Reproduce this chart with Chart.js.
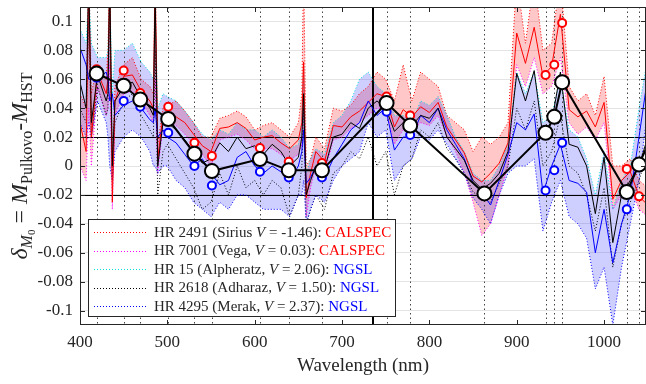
<!DOCTYPE html>
<html>
<head>
<meta charset="utf-8">
<script src="https://cdn.jsdelivr.net/npm/chart.js@4.4.1/dist/chart.umd.min.js"></script>
<style>
  html, body { margin: 0; padding: 0; background: #fff; overflow: hidden; }
  #wrap { width: 646px; height: 384px; position: relative; }
  #deltaChart { display: block; }
</style>
</head>
<body>
<div id="wrap"><canvas id="deltaChart"></canvas></div>
<script>
// wavelength grid (nm), extra points around the Balmer lines
const wl = [400, 407, 410, 413, 420, 430, 432, 434, 437, 440,
  450, 460, 470, 480, 484, 486, 489, 495,
  500, 510, 520, 530, 540, 550, 560, 570, 580, 590, 600, 610, 620, 630, 640, 650,
  654, 656, 659, 664, 670,
  680, 690, 700, 710, 720, 730, 740, 750, 760, 770, 780, 790, 800, 810, 820, 830,
  840, 850, 860, 870, 880, 890, 900, 910, 920, 930, 940, 950, 960, 970, 980, 990,
  1000, 1010, 1020, 1030, 1040, 1050];

const xTicks = [400, 500, 600, 700, 800, 900, 1000];
const yTicks = [-0.1, -0.08, -0.06, -0.04, -0.02, 0, 0.02, 0.04, 0.06, 0.08, 0.1];

// HR 2491 Sirius (CALSPEC)
const sirius = [0.05, 0.04, 0.14, 0.05, 0.07, 0.06, 0.08, 0.14, 0.0, 0.055,
  0.07, 0.075, 0.06, 0.055, 0.05, 0.14, 0.015, 0.04,
  0.042, 0.045, 0.038, 0.03, 0.02, 0.02, 0.033, 0.035, 0.038, 0.034, 0.025, 0.028, 0.03, 0.025, 0.02, 0.03,
  0.05, 0.14, 0.0, 0.005, 0.02,
  0.012, 0.04, 0.038, 0.042, 0.05, 0.055, 0.065, 0.06, 0.045, 0.07, 0.045, 0.065, 0.06, 0.055, 0.035, 0.03,
  0.025, 0.01, 0.02, 0.015, 0.02, 0.03, 0.13, 0.085, 0.13, 0.08, 0.085, 0.13, 0.055, 0.045, 0.05, 0.035,
  0.062, 0.0, 0.0, 0.005, -0.01, -0.015];
// HR 7001 Vega (CALSPEC)
const vega = [0.0, -0.01, 0.04, 0.0, 0.055, 0.035, 0.04, 0.07, -0.03, 0.035,
  0.05, 0.052, 0.045, 0.035, 0.03, 0.06, -0.005, 0.028,
  0.03, 0.028, 0.022, 0.015, 0.008, 0.0, 0.018, 0.02, 0.022, 0.018, 0.012, 0.012, 0.012, 0.008, 0.004, 0.008,
  0.015, 0.04, -0.035, -0.015, 0.0,
  -0.005, 0.018, 0.02, 0.026, 0.03, 0.035, 0.04, 0.04, 0.015, 0.025, 0.025, 0.03, 0.028, 0.035, 0.02, 0.01,
  -0.005, -0.025, -0.048, -0.04, -0.02, 0.0, 0.07, 0.055, 0.075, 0.05, 0.055, 0.075, 0.03, 0.022, 0.027, 0.018,
  0.03, -0.03, -0.02, -0.015, -0.03, -0.035];
// HR 15 Alpheratz (NGSL)
const alpheratz = [0.095, 0.085, 0.12, 0.085, 0.075, 0.075, 0.08, 0.12, 0.05, 0.08,
  0.08, 0.085, 0.072, 0.065, 0.06, 0.11, 0.04, 0.05,
  0.048, 0.045, 0.038, 0.03, 0.022, 0.018, 0.025, 0.022, 0.03, 0.025, 0.025, 0.02, 0.025, 0.02, 0.012, 0.015,
  0.03, 0.07, -0.005, 0.005, 0.012,
  0.008, 0.03, 0.035, 0.045, 0.06, 0.065, 0.055, 0.05, 0.035, 0.035, 0.03, 0.045, 0.042, 0.048, 0.035, 0.02,
  0.01, -0.005, -0.01, -0.01, 0.0, 0.015, 0.065, 0.05, 0.065, 0.03, 0.035, 0.06, 0.025, 0.02, 0.005, -0.02,
  0.01, -0.03, -0.01, 0.0, 0.04, 0.075];
// HR 4295 Merak (NGSL)
const merak = [0.03, 0.02, 0.03, 0.02, 0.045, 0.03, 0.02, 0.0, -0.01, 0.01,
  0.02, 0.025, 0.02, 0.01, 0.0, 0.0, -0.005, 0.0,
  0.0, -0.01, -0.015, -0.025, -0.03, -0.035, -0.025, -0.03, -0.02, -0.02, -0.025, -0.03, -0.03, -0.03, -0.035, -0.02,
  -0.02, -0.01, -0.04, -0.03, -0.02,
  -0.025, -0.01, 0.0, 0.005, 0.01, 0.03, 0.02, 0.025, -0.01, 0.0, 0.005, 0.02, 0.018, 0.025, 0.015, 0.005,
  -0.005, -0.022, -0.03, -0.04, -0.02, -0.005, 0.0, 0.0, 0.005, -0.045, -0.025, -0.01, -0.035, -0.04, -0.05, -0.085,
  -0.07, -0.11, -0.07, -0.04, -0.01, 0.04];
// HR 2618 Adhara (NGSL)
const adhara = [0.04, 0.03, 0.1, 0.02, 0.055, 0.035, 0.04, 0.11, -0.01, 0.03,
  0.045, 0.05, 0.035, 0.025, 0.02, 0.08, -0.02, 0.01,
  0.015, 0.005, -0.005, -0.015, -0.03, -0.025, -0.005, -0.02, 0.0, -0.015, -0.01, -0.02, -0.01, -0.015, -0.035, -0.02,
  0.0, 0.04, -0.04, -0.03, -0.02,
  -0.03, -0.005, 0.0, 0.01, 0.005, 0.02, 0.0, 0.01, -0.02, 0.0, 0.005, 0.025, 0.02, 0.03, 0.012, 0.005,
  -0.005, -0.018, -0.022, -0.025, -0.012, 0.0, 0.04, 0.025, 0.045, 0.0, 0.01, 0.035, 0.0, -0.005, -0.02, -0.045,
  -0.015, -0.07, -0.04, -0.025, -0.01, 0.01];

// group means
const calspecMean = [0.03, 0.01, 0.13, 0.02, 0.065, 0.05, 0.06, 0.13, -0.025, 0.045,
  0.062, 0.063, 0.052, 0.045, 0.04, 0.13, 0.005, 0.035,
  0.036, 0.034, 0.03, 0.022, 0.014, 0.01, 0.026, 0.027, 0.03, 0.026, 0.018, 0.02, 0.021, 0.016, 0.012, 0.018,
  0.03, 0.072, -0.022, -0.005, 0.01,
  0.003, 0.028, 0.027, 0.034, 0.038, 0.044, 0.05, 0.048, 0.027, 0.039, 0.034, 0.041, 0.037, 0.044, 0.027, 0.018,
  0.009, -0.007, -0.011, -0.005, 0.002, 0.016, 0.092, 0.071, 0.096, 0.062, 0.069, 0.105, 0.039, 0.034, 0.038, 0.027,
  0.044, -0.023, -0.01, -0.004, -0.021, -0.027];
const ngslMean = [0.082, 0.07, 0.06, 0.06, 0.06, 0.065, 0.06, 0.045, 0.05, 0.035,
  0.042, 0.045, 0.04, 0.032, 0.03, 0.04, 0.02, 0.025,
  0.02, 0.016, 0.008, 0.0, 0.005, -0.005, -0.013, -0.01, 0.006, 0.01, 0.0, -0.005, 0.0, -0.004, -0.01, 0.0,
  0.01, 0.025, -0.012, -0.008, 0.0,
  -0.008, 0.005, 0.015, 0.025, 0.03, 0.045, 0.035, 0.04, 0.011, 0.02, 0.02, 0.035, 0.03, 0.04, 0.025, 0.015,
  0.005, -0.012, -0.018, -0.027, -0.01, 0.008, 0.03, 0.025, 0.036, -0.019, 0.0, 0.015, -0.01, -0.012, -0.018, -0.06,
  -0.03, -0.067, -0.04, -0.02, 0.02, 0.062];
const allMean = [0.058, 0.04, 0.13, 0.03, 0.063, 0.045, 0.05, 0.13, 0.0, 0.045,
  0.055, 0.058, 0.047, 0.04, 0.035, 0.12, 0.0, 0.03,
  0.03, 0.025, 0.018, 0.01, 0.002, 0.005, 0.016, 0.01, 0.02, 0.012, 0.014, 0.008, 0.015, 0.01, 0.0, 0.006,
  0.02, 0.05, -0.02, -0.01, 0.0,
  -0.002, 0.02, 0.022, 0.03, 0.026, 0.04, 0.045, 0.04, 0.024, 0.03, 0.028, 0.035, 0.033, 0.04, 0.02, 0.012,
  0.004, -0.01, -0.016, -0.012, -0.005, 0.01, 0.064, 0.045, 0.066, 0.02, 0.03, 0.065, 0.015, 0.013, 0.0, -0.033,
  0.006, -0.053, -0.02, -0.01, 0.0, 0.02];

// filter band points
const refWl = [419, 450, 469, 501, 531, 551, 606, 639, 677, 751, 778, 863, 933, 943, 952, 1026, 1040, 1065];
const meanAtRef = [0.064, 0.0555, 0.046, 0.0325, 0.0085, -0.0035, 0.0048, -0.003, -0.003, 0.0436, 0.028, -0.019, 0.023, 0.034, 0.058, -0.018, 0.001, 0.035];
const calspecAtRef = [0.067, 0.066, 0.0505, 0.041, 0.016, 0.007, 0.0125, 0.003, 0.002, 0.048, 0.035, -0.019, 0.063, 0.070, 0.099, -0.002, -0.021, null];
const ngslAtRef = [0.061, 0.045, 0.041, 0.023, 0.0, -0.0135, -0.004, -0.008, -0.008, 0.0375, 0.0215, -0.019, -0.017, -0.003, 0.016, -0.030, 0.001, null];

const limits = [0.02, -0.02];
const splitWl = 735;

const legendNames = ['HR 2491 (Sirius ', 'HR 7001 (Vega, ', 'HR 15 (Alpheratz, ', 'HR 2618 (Adharaz, ', 'HR 4295 (Merak, '];
const legendV = ['-1.46', '0.03', '2.06', '1.50', '2.37'];
const legendSrc = ['CALSPEC', 'CALSPEC', 'NGSL', 'NGSL', 'NGSL'];
const legendColors = ['#ff0000', '#ff00ff', '#00e0e0', '#000000', '#0000ff'];

const SERIF = "'Liberation Serif', 'DejaVu Serif', serif";
const TEXT = '#262626';

const pts = arr => wl.map((w, i) => ({ x: w, y: arr[i] }));
const refPts = arr => refWl.map((w, i) => ({ x: w, y: arr[i] }));

const dotted = (label, arr, color, extra) => Object.assign({
    label: label,
    data: pts(arr),
    borderColor: color,
    borderWidth: 1,
    borderDash: [1, 2],
    pointRadius: 0,
    tension: 0,
    fill: false,
    order: 6
}, extra || {});

const solid = (label, arr, color, order) => ({
    label: label,
    data: pts(arr),
    borderColor: color,
    borderWidth: 1,
    pointRadius: 0,
    tension: 0,
    fill: false,
    order: order
});

const rings = (label, arr, color) => ({
    label: label,
    data: refPts(arr),
    showLine: false,
    pointRadius: 4,
    pointBorderWidth: 2,
    pointBorderColor: color,
    pointBackgroundColor: '#ffffff',
    order: 1
});

// dotted filter positions, reference lines
const markers = {
    id: 'markers',
    beforeDatasetsDraw(chart) {
        const { ctx, chartArea: a, scales: { x, y } } = chart;
        ctx.save();
        ctx.beginPath();
        ctx.rect(a.left, a.top, a.right - a.left, a.bottom - a.top);
        ctx.clip();
        ctx.strokeStyle = '#444';
        ctx.lineWidth = 1;
        ctx.setLineDash([1.5, 3]);
        refWl.forEach(w => {
            const px = Math.round(x.getPixelForValue(w)) + 0.5;
            ctx.beginPath();
            ctx.moveTo(px, a.top);
            ctx.lineTo(px, a.bottom);
            ctx.stroke();
        });
        ctx.setLineDash([]);
        ctx.strokeStyle = '#000';
        limits.forEach(v => {
            const py = Math.round(y.getPixelForValue(v)) + 0.5;
            ctx.beginPath();
            ctx.moveTo(a.left, py);
            ctx.lineTo(a.right, py);
            ctx.stroke();
        });
        ctx.lineWidth = 2;
        const sx = Math.round(x.getPixelForValue(splitWl));
        ctx.beginPath();
        ctx.moveTo(sx, a.top);
        ctx.lineTo(sx, a.bottom);
        ctx.stroke();
        ctx.restore();
    }
};

// box and inner tick marks
const frame = {
    id: 'frame',
    afterDatasetsDraw(chart) {
        const { ctx, chartArea: a, scales: { x, y } } = chart;
        ctx.save();
        ctx.strokeStyle = TEXT;
        ctx.lineWidth = 1;
        ctx.strokeRect(a.left + 0.5, a.top + 0.5, a.right - a.left - 1, a.bottom - a.top - 1);
        ctx.beginPath();
        xTicks.forEach(v => {
            const px = Math.round(x.getPixelForValue(v)) + 0.5;
            ctx.moveTo(px, a.bottom); ctx.lineTo(px, a.bottom - 5);
            ctx.moveTo(px, a.top); ctx.lineTo(px, a.top + 5);
        });
        yTicks.forEach(v => {
            const py = Math.round(y.getPixelForValue(v)) + 0.5;
            ctx.moveTo(a.left, py); ctx.lineTo(a.left + 5, py);
            ctx.moveTo(a.right, py); ctx.lineTo(a.right - 5, py);
        });
        ctx.stroke();
        ctx.restore();
    }
};

// legend with coloured catalogue names
const starLegend = {
    id: 'starLegend',
    afterDraw(chart) {
        const ctx = chart.ctx;
        const bx = 88, by = 219, bw = 307, bh = 97, rowH = 18.5;
        ctx.save();
        ctx.fillStyle = '#fff';
        ctx.fillRect(bx, by, bw, bh);
        ctx.strokeStyle = TEXT;
        ctx.lineWidth = 1;
        ctx.strokeRect(bx + 0.5, by + 0.5, bw, bh);
        ctx.textBaseline = 'middle';
        legendNames.forEach((name, i) => {
            const cy = by + 13 + i * rowH;
            ctx.strokeStyle = legendColors[i];
            ctx.setLineDash([1, 2]);
            ctx.beginPath();
            ctx.moveTo(94, Math.round(cy) + 0.5);
            ctx.lineTo(148, Math.round(cy) + 0.5);
            ctx.stroke();
            ctx.setLineDash([]);
            let tx = 154;
            const parts = [
                [name, '15px ' + SERIF, TEXT],
                ['V', 'italic 15px ' + SERIF, TEXT],
                [' = ' + legendV[i] + '): ', '15px ' + SERIF, TEXT],
                [legendSrc[i], '15px ' + SERIF, legendSrc[i] === 'CALSPEC' ? '#ff0000' : '#0000ff']
            ];
            parts.forEach(p => {
                ctx.font = p[1];
                ctx.fillStyle = p[2];
                ctx.fillText(p[0], tx, cy + 1);
                tx += ctx.measureText(p[0]).width;
            });
        });
        ctx.restore();
    }
};

// rotated y-axis label with subscripts
const yLabel = {
    id: 'yLabel',
    afterDraw(chart) {
        const { ctx, chartArea: a } = chart;
        const segs = [
            ['\u03B4', 'italic 24px', 0],
            ['M', 'italic 16px', 5],
            ['0', '11px', 8],
            [' = ', '24px', 0],
            ['M', 'italic 24px', 0],
            ['Pulkovo', '16px', 5],
            ['-', '24px', 0],
            ['M', 'italic 24px', 0],
            ['HST', '16px', 5]
        ];
        ctx.save();
        let total = 0;
        segs.forEach(s => { ctx.font = s[1] + ' ' + SERIF; total += ctx.measureText(s[0]).width; });
        ctx.translate(27, (a.top + a.bottom) / 2 + total / 2);
        ctx.rotate(-Math.PI / 2);
        ctx.fillStyle = TEXT;
        ctx.textBaseline = 'alphabetic';
        let tx = 0;
        segs.forEach(s => {
            ctx.font = s[1] + ' ' + SERIF;
            ctx.fillText(s[0], tx, s[2]);
            tx += ctx.measureText(s[0]).width;
        });
        ctx.restore();
    }
};

const ctx = document.getElementById('deltaChart').getContext('2d');
const deltaChart = new Chart(ctx, {
    type: 'line',
    data: {
        datasets: [
            dotted('HR 2491', sirius, '#ff0000', { fill: '+1', backgroundColor: 'rgba(255, 0, 0, 0.22)', order: 9 }),
            dotted('HR 7001', vega, '#ff00ff', { order: 8 }),
            dotted('HR 15', alpheratz, '#00e0e0', { fill: '+1', backgroundColor: 'rgba(30, 30, 255, 0.22)', order: 7 }),
            dotted('HR 4295', merak, '#0000ff', { order: 6 }),
            dotted('HR 2618', adhara, '#000000', { order: 6 }),
            solid('CALSPEC mean', calspecMean, '#ff0000', 5),
            solid('NGSL mean', ngslMean, '#0000ff', 4),
            solid('All mean', allMean, '#000000', 3),
            rings('CALSPEC filter', calspecAtRef, '#ff0000'),
            rings('NGSL filter', ngslAtRef, '#0000ff'),
            {
                label: 'Filter mean',
                data: refPts(meanAtRef),
                borderColor: '#000000',
                borderWidth: 2,
                tension: 0,
                pointRadius: 7,
                pointBorderWidth: 2,
                pointBorderColor: '#000000',
                pointBackgroundColor: '#ffffff',
                fill: false,
                order: 0
            }
        ]
    },
    options: {
        responsive: true,
        maintainAspectRatio: false,
        animation: false,
        devicePixelRatio: 1,
        layout: { autoPadding: false, padding: { top: 7, right: 0, left: 0, bottom: 0 } },
        plugins: {
            legend: { display: false },
            tooltip: { enabled: false },
            filler: { drawTime: 'beforeDatasetsDraw' }
        },
        scales: {
            x: {
                type: 'linear',
                min: 400,
                max: 1048,
                afterBuildTicks: s => { s.ticks = xTicks.map(v => ({ value: v })); },
                afterFit: s => {
                    s.height = 59;
                    s.paddingLeft = 0;
                    s.paddingRight = 0;
                },
                grid: { display: false, drawTicks: false },
                border: { display: false },
                ticks: {
                    maxRotation: 0,
                    autoSkip: false,
                    padding: 7,
                    color: TEXT,
                    font: { family: SERIF, size: 17 },
                    callback: v => String(v)
                },
                title: {
                    display: true,
                    text: 'Wavelength (nm)',
                    color: TEXT,
                    font: { family: SERIF, size: 19 },
                    padding: { top: 0, bottom: 7 }
                }
            },
            y: {
                min: -0.11,
                max: 0.11,
                afterBuildTicks: s => { s.ticks = yTicks.map(v => ({ value: v })); },
                afterFit: s => {
                    s.width = 80;
                    s.paddingTop = 0;
                    s.paddingBottom = 0;
                },
                grid: { color: '#e4e4e4', drawTicks: false },
                border: { display: false },
                ticks: {
                    autoSkip: false,
                    padding: 7,
                    color: TEXT,
                    font: { family: SERIF, size: 17 },
                    callback: v => {
                        const r = Math.round(v * 100) / 100;
                        return r === 0 ? '0' : String(r);
                    }
                }
            }
        }
    },
    plugins: [markers, frame, starLegend, yLabel]
});
</script>
</body>
</html>
